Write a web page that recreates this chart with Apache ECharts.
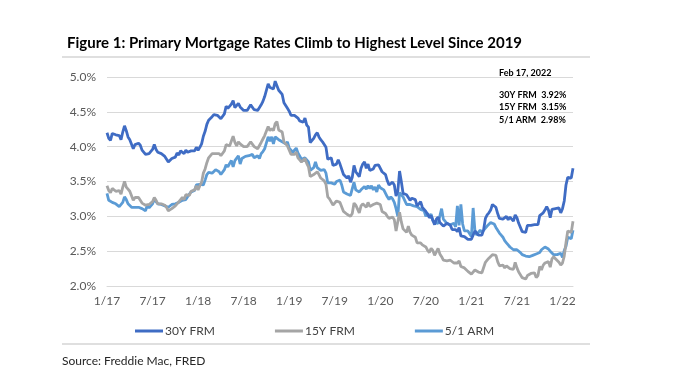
<!DOCTYPE html>
<html><head><meta charset="utf-8">
<script src="https://cdn.jsdelivr.net/npm/echarts@6/dist/echarts.min.js"></script>
<style>html,body{margin:0;padding:0;background:#fff}#c{width:680px;height:383px}</style>
</head><body><div id="c"></div>
<script>
// Weekly Freddie Mac PMMS, Jan 5 2017 - Feb 10 2022
var startDate = '2017-01-05';
var tickLabels = ['1/17','7/17','1/18','7/18','1/19','7/19','1/20','7/20','1/21','7/21','1/22'];
var seriesNames = ['30Y FRM','15Y FRM','5/1 ARM'];
var frm30 = [
4.20,4.12,4.09,4.19,4.19,4.17,4.15,4.16,4.10,4.21,4.30,4.23,4.14,4.10,4.08,3.97,4.03,4.02,4.05,4.02,3.95,3.94,3.89,3.91,3.90,3.88,3.96,4.03,3.96,3.92,3.93,3.90,3.89,3.86,3.82,3.78,3.78,3.83,3.83,3.85,3.91,3.88,3.94,3.94,3.90,3.95,3.92,3.90,3.94,3.93,3.94,3.99,
3.95,3.99,4.04,4.15,4.22,4.32,4.38,4.40,4.43,4.46,4.44,4.45,4.44,4.40,4.42,4.47,4.58,4.55,4.55,4.61,4.66,4.56,4.54,4.62,4.57,4.55,4.52,4.53,4.52,4.54,4.60,4.59,4.53,4.51,4.52,4.54,4.60,4.65,4.72,4.71,4.90,4.85,4.86,4.83,4.94,4.94,4.81,4.81,4.75,4.63,4.62,4.55,
4.51,4.45,4.45,4.45,4.46,4.41,4.37,4.35,4.35,4.41,4.31,4.28,4.06,4.08,4.12,4.17,4.20,4.14,4.10,4.07,4.06,3.99,3.82,3.82,3.84,3.73,3.75,3.75,3.81,3.75,3.75,3.60,3.60,3.55,3.58,3.49,3.56,3.73,3.64,3.65,3.57,3.69,3.75,3.78,3.69,3.75,3.66,3.68,3.68,3.73,3.73,3.74,
3.72,3.64,3.65,3.60,3.51,3.45,3.47,3.49,3.45,3.29,3.36,3.65,3.50,3.33,3.33,3.31,3.33,3.23,3.26,3.28,3.24,3.15,3.18,3.21,3.13,3.13,3.07,3.03,2.98,3.01,2.99,2.88,2.96,2.99,2.91,2.93,2.86,2.87,2.90,2.88,2.87,2.81,2.80,2.81,2.78,2.84,2.72,2.72,2.71,2.71,2.67,2.66,2.67,
2.65,2.79,2.77,2.73,2.73,2.73,2.81,2.97,3.02,3.05,3.09,3.17,3.18,3.13,3.04,2.97,2.98,2.96,2.94,3.00,2.95,2.99,2.96,2.93,3.02,2.98,2.90,2.88,2.78,2.80,2.77,2.87,2.86,2.87,2.87,2.88,2.86,2.88,3.01,2.99,3.05,3.09,3.14,3.09,2.98,3.10,3.10,3.11,3.10,3.12,3.05,3.11,
3.22,3.45,3.56,3.55,3.55,3.69];
var frm15 = [
3.44,3.37,3.34,3.40,3.41,3.36,3.35,3.37,3.32,3.42,3.50,3.42,3.39,3.36,3.34,3.23,3.27,3.28,3.27,3.26,3.19,3.19,3.16,3.18,3.17,3.17,3.21,3.27,3.23,3.18,3.19,3.18,3.17,3.16,3.13,3.08,3.08,3.11,3.13,3.15,3.18,3.19,3.24,3.27,3.24,3.31,3.32,3.30,3.36,3.36,3.38,3.44,
3.38,3.44,3.49,3.62,3.68,3.77,3.84,3.85,3.90,3.92,3.90,3.91,3.90,3.87,3.87,3.94,4.03,4.03,4.01,4.08,4.15,4.06,4.01,4.07,4.04,4.02,4.00,4.02,4.00,4.02,4.07,4.06,4.00,3.98,3.97,3.98,4.06,4.11,4.16,4.15,4.29,4.23,4.26,4.23,4.33,4.36,4.24,4.22,4.21,4.07,4.07,4.01,
3.99,3.89,3.88,3.89,3.92,3.84,3.81,3.78,3.77,3.83,3.76,3.71,3.57,3.56,3.60,3.62,3.64,3.60,3.55,3.53,3.51,3.46,3.28,3.25,3.25,3.16,3.18,3.22,3.23,3.20,3.20,3.07,3.07,3.03,3.03,3.00,3.04,3.19,3.16,3.14,3.05,3.15,3.18,3.20,3.13,3.20,3.14,3.15,3.17,3.19,3.19,3.19,
3.17,3.07,3.09,3.04,3.00,2.97,2.97,2.99,2.95,2.79,2.77,3.06,2.92,2.82,2.80,2.77,2.86,2.77,2.73,2.72,2.70,2.62,2.64,2.62,2.59,2.59,2.56,2.51,2.48,2.54,2.51,2.44,2.46,2.54,2.46,2.42,2.37,2.35,2.36,2.36,2.37,2.35,2.33,2.33,2.33,2.36,2.28,2.28,2.26,2.26,2.21,2.19,2.17,
2.16,2.23,2.21,2.20,2.21,2.19,2.21,2.34,2.37,2.40,2.40,2.45,2.45,2.44,2.35,2.29,2.31,2.30,2.26,2.29,2.27,2.25,2.23,2.24,2.34,2.26,2.20,2.22,2.12,2.10,2.10,2.15,2.16,2.18,2.18,2.19,2.12,2.15,2.28,2.23,2.30,2.33,2.35,2.35,2.27,2.39,2.42,2.39,2.38,2.34,2.30,2.33,
2.43,2.62,2.79,2.77,2.77,2.93];
var arm51 = [
3.33,3.23,3.22,3.20,3.20,3.18,3.16,3.14,3.14,3.20,3.28,3.24,3.18,3.18,3.13,3.11,3.13,3.12,3.13,3.14,3.11,3.10,3.08,3.16,3.12,3.15,3.18,3.25,3.21,3.18,3.18,3.17,3.15,3.15,3.16,3.13,3.15,3.17,3.17,3.18,3.20,3.20,3.22,3.23,3.21,3.24,3.22,3.32,3.35,3.36,3.37,3.45,
3.45,3.46,3.46,3.45,3.52,3.60,3.63,3.65,3.62,3.63,3.67,3.67,3.64,3.60,3.61,3.67,3.74,3.71,3.76,3.80,3.71,3.80,3.82,3.87,3.75,3.83,3.85,3.86,3.86,3.87,3.87,3.89,3.84,3.85,3.87,3.83,3.90,3.93,3.97,3.97,4.14,4.08,4.14,4.04,4.14,4.12,4.10,4.12,4.07,4.06,4.04,4.07,
3.98,3.99,3.92,3.94,3.98,3.91,3.89,3.82,3.84,3.84,3.84,3.78,3.66,3.68,3.70,3.78,3.70,3.68,3.66,3.68,3.67,3.62,3.48,3.46,3.48,3.48,3.46,3.50,3.48,3.52,3.45,3.35,3.36,3.32,3.33,3.30,3.30,3.49,3.38,3.39,3.35,3.38,3.37,3.43,3.39,3.44,3.40,3.44,3.38,3.42,3.35,3.45,
3.41,3.39,3.38,3.33,3.28,3.24,3.28,3.25,3.20,3.11,3.00,3.34,3.34,3.28,3.29,3.17,3.16,3.17,3.17,3.15,3.16,3.14,3.14,3.10,3.09,3.08,3.00,3.04,3.00,3.03,2.94,2.91,2.90,2.90,2.90,3.11,2.96,2.96,2.90,2.89,2.88,2.90,2.90,2.85,3.15,2.87,3.17,2.89,2.79,2.79,2.79,2.79,2.71,
3.12,2.80,2.73,2.77,2.80,2.77,2.77,2.83,2.86,2.87,2.91,2.93,2.89,2.84,2.80,2.76,2.73,2.70,2.65,2.62,2.59,2.56,2.54,2.52,2.54,2.52,2.50,2.48,2.45,2.43,2.43,2.44,2.42,2.43,2.44,2.43,2.46,2.45,2.48,2.52,2.54,2.56,2.56,2.53,2.50,2.49,2.45,2.47,2.45,2.43,2.47,2.41,
2.51,2.57,2.70,2.69,2.68,2.80];
var colors = ['#3F6CC4','#A5A5A5','#5B9BD5'];

// weekly category dates
var categories = [];
(function(){var d=new Date(startDate+'T00:00:00Z');for(var i=0;i<frm30.length;i++){categories.push((d.getUTCMonth()+1)+'/'+d.getUTCDate()+'/'+d.getUTCFullYear());d=new Date(d.getTime()+7*86400000);}})();

var FONT = 'Lato, "Open Sans", sans-serif';
var chart = echarts.init(document.getElementById('c'), null, {renderer:'canvas'});
var vals = [frm30, frm15, arm51];
chart.setOption({
  animation:false,
  color: colors,
  title:{text:'Figure 1: Primary Mortgage Rates Climb to Highest Level Since 2019', left:62, top:31,
    textStyle:{fontFamily:FONT, fontWeight:'bold', fontSize:15, color:'#000'}},
  grid:{left:107, right:107, top:77, bottom:97},
  legend:{data:seriesNames, left:130, top:320, itemGap:60, itemWidth:28, itemHeight:3, icon:'rect',
    textStyle:{fontFamily:FONT, fontSize:12, color:'#404040', padding:[0,0,0,-3]}},
  xAxis:{type:'category', data:categories, boundaryGap:false,
    axisLine:{show:true, lineStyle:{color:'#d9d9d9', width:1}}, axisTick:{show:false},
    axisLabel:{interval:function(i){return i%26===0;}, formatter:function(v,i){return tickLabels[i/26]||'';},
      fontFamily:FONT, fontSize:12, color:'#595959', margin:9}},
  yAxis:{type:'value', min:2, max:5, interval:0.5,
    axisLine:{show:false}, axisTick:{show:false},
    splitLine:{lineStyle:{color:'#d9d9d9', width:1}},
    axisLabel:{formatter:function(v){return v.toFixed(1)+'%';}, fontFamily:FONT, fontSize:12, color:'#595959', margin:11}},
  series: seriesNames.map(function(n,k){return {name:n, type:'line', data:vals[k], showSymbol:false, symbol:'none',
    lineStyle:{width:2.8, color:colors[k]}, z: 3-k};}),
  graphic:[
    {type:'line', shape:{x1:62,y1:57,x2:590,y2:57}, style:{stroke:'#bfbfbf', lineWidth:1}},
    {type:'text', left:499, top:69, style:{text:'Feb 17, 2022', font:'bold 9px '+FONT, fill:'#000'}},
    {type:'text', left:499, top:91, style:{text:'30Y FRM  3.92%', font:'bold 9px '+FONT, fill:'#000'}},
    {type:'text', left:499, top:103, style:{text:'15Y FRM  3.15%', font:'bold 9px '+FONT, fill:'#000'}},
    {type:'text', left:499, top:116, style:{text:'5/1 ARM  2.98%', font:'bold 9px '+FONT, fill:'#000'}},
    {type:'line', shape:{x1:62,y1:344,x2:590,y2:344}, style:{stroke:'#bfbfbf', lineWidth:1}},
    {type:'text', left:62, top:355, style:{text:'Source: Freddie Mac, FRED', font:'12px '+FONT, fill:'#262626'}}
  ]
});
</script></body></html>
